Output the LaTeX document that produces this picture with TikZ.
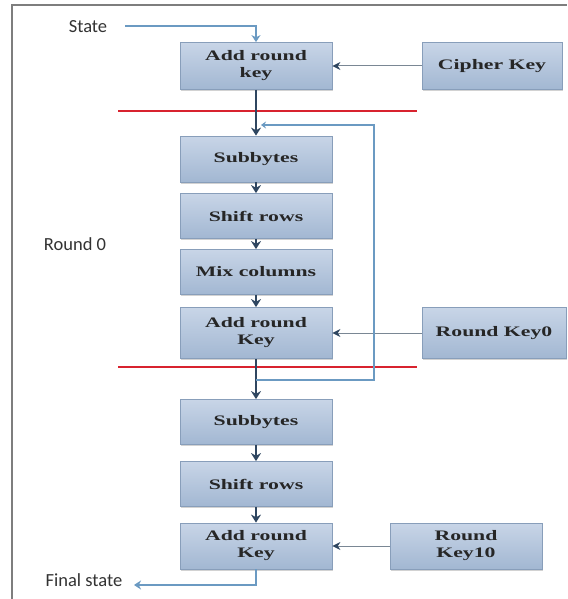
\documentclass[tikz,border=0pt]{standalone}
\usepackage{fontspec}
\setmainfont{Liberation Serif}
\newfontfamily\boxfont[FakeStretch=1.5]{Liberation Serif}
\newfontfamily\labelfont{Carlito}
\usetikzlibrary{arrows.meta,shadows}
\definecolor{boxtop}{HTML}{C8D5E7}
\definecolor{boxbot}{HTML}{A2B7D2}
\definecolor{boxline}{HTML}{889EBA}
\definecolor{boxtext}{HTML}{262626}
\definecolor{mainline}{HTML}{2F4660}
\definecolor{keyline}{HTML}{7A8794}
\definecolor{loopblue}{HTML}{6B9AC2}
\definecolor{redline}{HTML}{D8232F}
\definecolor{framegray}{HTML}{7E7E7E}
\definecolor{labeltext}{HTML}{333333}
\tikzset{
  stepbox/.style={draw=boxline, line width=0.8pt, top color=boxtop, bottom color=boxbot,
    minimum width=152pt, minimum height=47pt, inner sep=0pt, align=center,
    text=boxtext, font=\boxfont\bfseries\fontsize{14.5}{17}\selectfont,
    drop shadow={shadow xshift=1.2pt, shadow yshift=-1.5pt, opacity=0.35}},
  lbl/.style={text=labeltext, font=\labelfont\fontsize{18.5}{21}\selectfont, inner sep=0pt},
  mainarrow/.style={draw=mainline, line width=1.7pt, -{Stealth[length=8pt,width=10pt]}},
  keyarrow/.style={draw=keyline, line width=1pt, -{Stealth[length=8pt,width=8pt,color=mainline]}},
  bluearrow/.style={draw=loopblue, line width=2.6pt, -{Stealth[length=7pt,width=9pt]}},
  redsep/.style={draw=redline, line width=2.6pt},
  framestyle/.style={draw=framegray, line width=1.8pt}
}
\begin{document}
\begin{tikzpicture}[x=1pt, y=-1pt]
\useasboundingbox (0,0) rectangle (567,599);
\fill[white] (0,0) rectangle (567,599);
% frame
\coordinate (f1) at (12,599);
\coordinate (f2) at (12,5);
\coordinate (f3) at (567,5);
\draw[framestyle] (f1) -- (f2) -- (f3);

% red separators
\coordinate (r1a) at (118,111);
\coordinate (r1b) at (417,111);
\coordinate (r2a) at (118,367);
\coordinate (r2b) at (417,367);
\draw[redsep] (r1a) -- (r1b);
\draw[redsep] (r2a) -- (r2b);

% boxes
\node[stepbox] (ark1) at (256,66) {Add round\\key};
\node[stepbox, minimum width=140pt] (cipher) at (492,66) {Cipher Key};
\node[stepbox, minimum height=46pt] (sub1) at (256,159) {Subbytes};
\node[stepbox, minimum height=45pt] (shift1) at (256,216) {Shift rows};
\node[stepbox, minimum height=45pt] (mix) at (256,272) {Mix columns};
\node[stepbox, minimum height=51pt] (ark2) at (256,333) {Add round\\Key};
\node[stepbox, minimum width=144pt, minimum height=51pt] (rk0) at (494,333) {Round Key0};
\node[stepbox, minimum height=45pt] (sub2) at (256,422) {Subbytes};
\node[stepbox, minimum height=45pt] (shift2) at (256,484) {Shift rows};
\node[stepbox, minimum height=46pt] (ark3) at (256,546) {Add round\\Key};
\node[stepbox, minimum height=46pt] (rk10) at (466,546) {Round\\Key10};

% labels
\node[lbl] (state) at (88,27) {State};
\node[lbl] (round0) at (75,244) {Round 0};
\node[lbl] (final) at (84,580) {Final state};

% state input
\coordinate (s0) at (125,26);
\coordinate (s1) at (256,26);
\draw[bluearrow] (s0) -- (s1) -- (ark1.north);

% key arrows
\draw[keyarrow] (cipher.west) -- (ark1.east);
\draw[keyarrow] (rk0.west) -- (ark2.east);
\draw[keyarrow] (rk10.west) -- (ark3.east);

% main flow
\draw[mainarrow] (ark1.south) -- (sub1.north);
\draw[mainarrow] (sub1.south) -- (shift1.north);
\draw[mainarrow] (shift1.south) -- (mix.north);
\draw[mainarrow] (mix.south) -- (ark2.north);
\draw[mainarrow] (ark2.south) -- (sub2.north);
\draw[mainarrow] (sub2.south) -- (shift2.north);
\draw[mainarrow] (shift2.south) -- (ark3.north);

% feedback loop
\coordinate (l0) at (256,380);
\coordinate (l1) at (374,380);
\coordinate (l2) at (374,125);
\coordinate (l3) at (261,125);
\draw[draw=loopblue, line width=2.6pt, -{Stealth[length=5pt,width=7pt]}] (l0) -- (l1) -- (l2) -- (l3);

% final output
\coordinate (o1) at (256,585);
\coordinate (o2) at (134,585);
\draw[bluearrow] (ark3.south) -- (o1) -- (o2);
\end{tikzpicture}
\end{document}
